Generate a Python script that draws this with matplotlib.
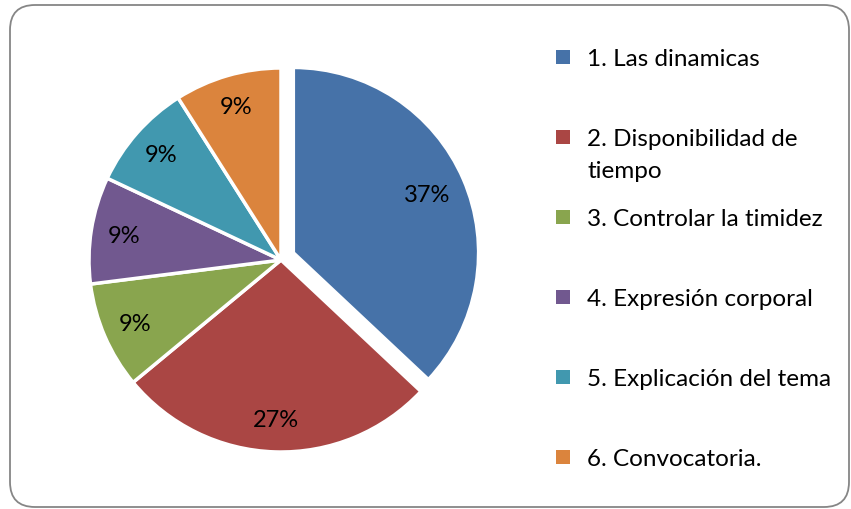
import matplotlib
matplotlib.use("Agg")
import matplotlib.pyplot as plt
import numpy as np
from matplotlib.patches import FancyBboxPatch, Rectangle
from matplotlib.transforms import IdentityTransform

## Chart data
labels = ["1. Las dinamicas", "2. Disponibilidad de\ntiempo",
          "3. Controlar la timidez", "4. Expresión corporal",
          "5. Explicación del tema", "6. Convocatoria."]
values = [37, 27, 9, 9, 9, 9]
colors = ["#4672A8", "#AA4644", "#89A54E", "#71588F", "#4198AF", "#DB843D"]
explode = [0.07, 0, 0, 0, 0, 0]

plt.rcParams['font.family'] = ['Lato', 'DejaVu Sans']

W, H = 851, 510
fig = plt.figure(figsize=(W / 100, H / 100), dpi=100)

## Rounded frame around the chart (pixel coordinates)
frame = FancyBboxPatch((10, 2), 839, 502, boxstyle="round,pad=0,rounding_size=25",
                       transform=IdentityTransform(), facecolor="none",
                       edgecolor="#868686", linewidth=1.3, zorder=5)
fig.patches.append(frame)

## Pie axes: centre at (281, 261) from top, radius 192 px
R = 192
cx, cy = 281, H - 261
lim = 1.2
ax = fig.add_axes([(cx - lim * R) / W, (cy - lim * R) / H, 2 * lim * R / W, 2 * lim * R / H])
wedges, texts = ax.pie(values, colors=colors, explode=explode, startangle=90,
                       counterclock=False, radius=1,
                       wedgeprops=dict(edgecolor="white", linewidth=2.5))
ax.set_xlim(-lim, lim)
ax.set_ylim(-lim, lim)
ax.axis("off")

## Excel draws the pulled-out slice a little smaller
for w, e in zip(wedges, explode):
    if e > 0:
        w.set_radius(0.965)
        w.set_center((w.center[0], w.center[1] + 0.01))

## Percent labels
for w, v in zip(wedges, values):
    ang = np.deg2rad((w.theta1 + w.theta2) / 2)
    d = 0.76 if v == max(values) else 0.83
    x = w.center[0] + d * np.cos(ang)
    y = w.center[1] + d * np.sin(ang)
    ax.text(x, y, "{:d}%".format(v), ha="center", va="center", fontsize=17, color="black")

## Legend drawn by hand so the wrapped entry keeps its marker on the first line
for i, (lab, col) in enumerate(zip(labels, colors)):
    ytop = 58 + 80 * i
    fig.patches.append(Rectangle((556, H - ytop - 7), 14, 14, transform=IdentityTransform(),
                                 facecolor=col, edgecolor="none"))
    for j, line in enumerate(lab.split("\n")):
        fig.text(587 / W, (H - ytop - 8 - 32 * j) / H, line, fontsize=17.5,
                 va="baseline", ha="left")

fig.savefig("out.png", dpi=100)
